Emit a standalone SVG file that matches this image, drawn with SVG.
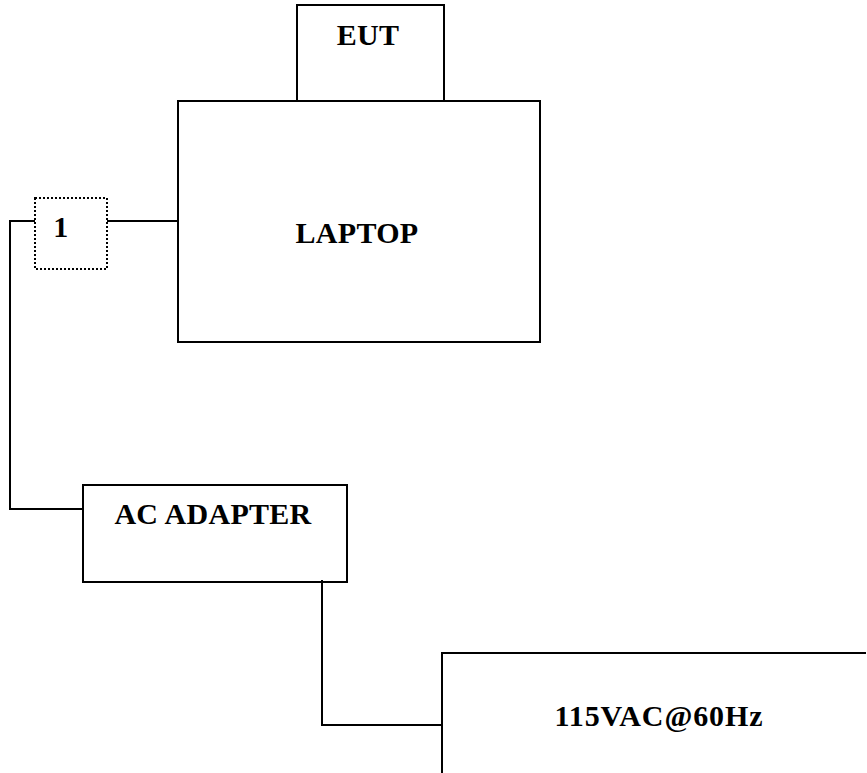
<svg xmlns="http://www.w3.org/2000/svg" width="867" height="773" viewBox="0 0 867 773">
<style>
.box{fill:none;stroke:#000;stroke-width:2}
.dot{fill:none;stroke:#000;stroke-width:2;stroke-dasharray:2 2}
.wire{fill:none;stroke:#000;stroke-width:2}
.lbl{font-family:"Liberation Serif","Times New Roman",serif;font-weight:bold;font-size:30px;fill:#000;text-anchor:middle;letter-spacing:0.3px}
.wide{letter-spacing:0.9px}
</style>
<rect width="867" height="773" fill="#fff"/>
<g id="connectors">
<path class="wire" d="M107 221H178"/>
<path class="wire" d="M35 221H10V509H83"/>
<path class="wire" d="M322 580V725H442"/>
</g>
<g id="eut"><rect class="box" x="297" y="5" width="147" height="96"/><text class="lbl" x="368" y="45">EUT</text></g>
<g id="laptop"><rect class="box" x="178" y="101" width="362" height="241"/><text class="lbl" x="357" y="243">LAPTOP</text></g>
<g id="node1"><rect class="dot" x="35" y="198" width="72" height="71"/><text class="lbl" x="61" y="237">1</text></g>
<g id="adapter"><rect class="box" x="83" y="485" width="264" height="97"/><text class="lbl" x="213" y="524">AC ADAPTER</text></g>
<g id="mains"><path class="box" d="M866 653H442V773"/><text class="lbl wide" x="659" y="726">115VAC@60Hz</text></g>
</svg>
